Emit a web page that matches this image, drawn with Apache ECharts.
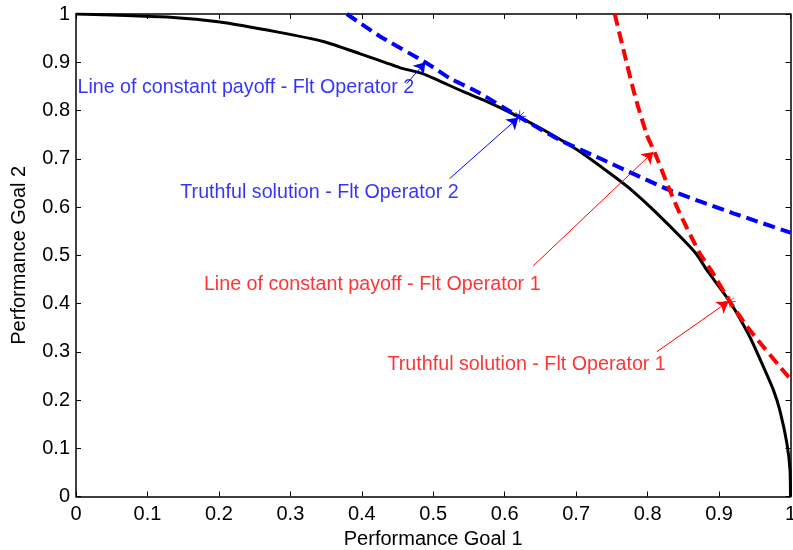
<!DOCTYPE html>
<html>
<head>
<meta charset="utf-8">
<script src="https://cdn.jsdelivr.net/npm/echarts@6/dist/echarts.min.js"></script>
<style>html,body{margin:0;padding:0;background:#fff;}#c{width:793px;height:550px;}</style>
</head>
<body>
<div id="c"></div>
<script>
// ---- data ----
var xTickLabels = ['0','0.1','0.2','0.3','0.4','0.5','0.6','0.7','0.8','0.9','1'];
var yTickLabels = ['0','0.1','0.2','0.3','0.4','0.5','0.6','0.7','0.8','0.9','1'];

// Pareto front (black)
var paretoX = [0, 0.136, 0.199, 0.281, 0.346, 0.397, 0.453, 0.486, 0.542, 0.570, 0.617, 0.654, 0.705, 0.757, 0.780, 0.808, 0.850, 0.869, 0.883, 0.915, 0.943, 0.962, 0.976, 0.985, 0.995, 0.9993, 1.0];
var paretoY = [1.0, 0.993, 0.984, 0.963, 0.943, 0.918, 0.889, 0.876, 0.839, 0.822, 0.789, 0.760, 0.715, 0.659, 0.632, 0.594, 0.532, 0.501, 0.469, 0.404, 0.331, 0.269, 0.221, 0.179, 0.110, 0.055, 0.0];

// Line of constant payoff - Flt Operator 2 (blue dashed)
var payoff2X = [0.379, 0.425, 0.491, 0.523, 0.565, 0.621, 0.677, 0.733, 0.831, 0.920, 1.0];
var payoff2Y = [1.0, 0.954, 0.898, 0.867, 0.836, 0.786, 0.739, 0.701, 0.635, 0.587, 0.547];

// Line of constant payoff - Flt Operator 1 (red dashed)
var payoff1X = [0.754, 0.768, 0.782, 0.799, 0.810, 0.829, 0.845, 0.873, 0.890, 0.915, 0.943, 0.997, 1.0];
var payoff1Y = [1.0, 0.915, 0.832, 0.749, 0.713, 0.642, 0.587, 0.504, 0.466, 0.404, 0.345, 0.248, 0.244];

// Truthful solutions (asterisks)
var truthful2 = [0.621, 0.788];
var truthful1 = [0.915, 0.404];

// Annotation texts and their anchor (left, middle) positions in data units
var annTexts  = ['Line of constant payoff - Flt Operator 2', 'Truthful solution - Flt Operator 2', 'Line of constant payoff - Flt Operator 1', 'Truthful solution - Flt Operator 1'];
var annX      = [0.002, 0.146, 0.179, 0.436];
var annY      = [0.847, 0.630, 0.439, 0.273];
var annColors = ['#0000ff', '#0000ff', '#ff0000', '#ff0000'];

// Annotation arrows: tail -> head, data units
var arrowFromX = [0.463, 0.523, 0.640, 0.813];
var arrowFromY = [0.856, 0.659, 0.478, 0.300];
var arrowToX   = [0.489, 0.619, 0.808, 0.913];
var arrowToY   = [0.900, 0.785, 0.714, 0.404];

function zip(xs, ys){ return xs.map(function(x,i){ return [x, ys[i]]; }); }

var FONT = 'Liberation Sans, Arial, sans-serif';
var FS = 20;
var FS_ANN = 19.7;
var asterisk = 'path://M0,-6L0,6M-6,0L6,0M-4.2,-4.2L4.2,4.2M-4.2,4.2L4.2,-4.2';

var annData = annTexts.map(function(t,i){
  return { value:[annX[i], annY[i]], name:t,
    label:{ color: annColors[i] } };
});

var arrowData = arrowFromX.map(function(x,i){
  return [
    { coord:[x, arrowFromY[i]], lineStyle:{ color: annColors[i], width:1, type:'solid' },
      itemStyle:{ color: annColors[i] } },
    { coord:[arrowToX[i], arrowToY[i]], itemStyle:{ color: annColors[i] } }
  ];
});

var chart = echarts.init(document.getElementById('c'), null, {renderer:'canvas'});
var axisCommon = {
  min:0, max:1, interval:0.1,
  axisLine:{ show:true, onZero:false, lineStyle:{ color:'#000', width:1.5 } },
  axisTick:{ show:true, inside:true, length:5, lineStyle:{ color:'#000', width:1 } },
  splitLine:{ show:false }
};
chart.setOption({
  animation:false,
  backgroundColor:'#fff',
  textStyle:{ fontFamily: FONT },
  grid:{ left:76, right:2.5, top:14, bottom:53.5, containLabel:false, outerBoundsMode:'none' },
  xAxis:[
    Object.assign({}, axisCommon, {
      type:'value', position:'bottom',
      name:'Performance Goal 1', nameLocation:'middle', nameGap:31,
      nameTextStyle:{ color:'#000', fontSize:FS, fontFamily:FONT },
      axisLabel:{ color:'#000', fontSize:FS, fontFamily:FONT, margin:8,
        formatter:function(v){ return xTickLabels[Math.round(v*10)]; } }
    }),
    Object.assign({}, axisCommon, {
      type:'value', position:'top', axisLabel:{ show:false }
    })
  ],
  yAxis:[
    Object.assign({}, axisCommon, {
      type:'value', position:'left',
      name:'Performance Goal 2', nameLocation:'middle', nameGap:47,
      nameTextStyle:{ color:'#000', fontSize:FS, fontFamily:FONT },
      axisLabel:{ color:'#000', fontSize:FS, fontFamily:FONT, margin:6,
        formatter:function(v){ return yTickLabels[Math.round(v*10)]; } }
    }),
    Object.assign({}, axisCommon, {
      type:'value', position:'right', axisLabel:{ show:false }
    })
  ],
  series:[
    { name:'Pareto front', type:'line', data: zip(paretoX, paretoY), symbol:'none',
      smooth:0.2, lineStyle:{ color:'#000', width:3 }, z:2,
      markLine:{ silent:true, symbol:['none','arrow'], symbolSize:11,
        label:{ show:false }, data: arrowData, animation:false } },
    { name:'Constant payoff 2', type:'line', data: zip(payoff2X, payoff2Y), symbol:'none',
      smooth:0.2, lineStyle:{ color:'#0000ff', width:4, type:[12,6] }, z:3 },
    { name:'Constant payoff 1', type:'line', data: zip(payoff1X, payoff1Y), symbol:'none',
      smooth:0.2, lineStyle:{ color:'#ff0000', width:4, type:[12,6] }, z:3 },
    { name:'Truthful 2', type:'scatter', data:[truthful2], symbol:asterisk, symbolSize:12,
      itemStyle:{ color:'rgba(0,0,0,0)', borderColor:'#0000ff', borderWidth:1 }, z:5 },
    { name:'Truthful 1', type:'scatter', data:[truthful1], symbol:asterisk, symbolSize:12,
      itemStyle:{ color:'rgba(0,0,0,0)', borderColor:'#ff0000', borderWidth:1 }, z:5 },
    { name:'Annotations', type:'scatter', data: annData, symbolSize:0, silent:true, z:6,
      label:{ show:true, position:'right', distance:0, fontSize:FS_ANN, fontFamily:FONT,
        formatter:function(p){ return p.name; } } }
  ]
});
</script>
</body>
</html>
